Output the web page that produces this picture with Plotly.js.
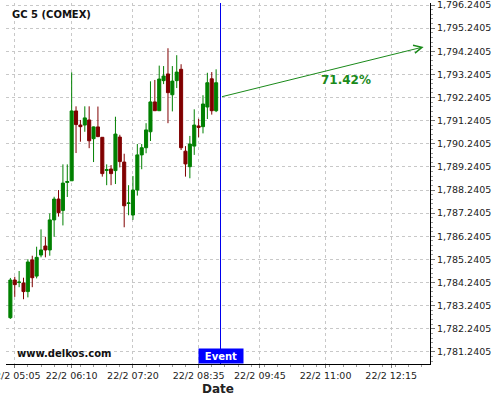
<!DOCTYPE html>
<html>
<head>
<meta charset="utf-8">
<script src="https://cdn.plot.ly/plotly-3.0.1.min.js"></script>
<style>html,body{margin:0;padding:0;background:#fff;}#chart{width:500px;height:400px;}</style>
</head>
<body>
<div id="chart"></div>
<script>
// ---- data ----
const times = [
  "2021-02-22 05:00","2021-02-22 05:05","2021-02-22 05:10","2021-02-22 05:15","2021-02-22 05:20","2021-02-22 05:25",
  "2021-02-22 05:30","2021-02-22 05:35","2021-02-22 05:40","2021-02-22 05:45","2021-02-22 05:50","2021-02-22 05:55",
  "2021-02-22 06:00","2021-02-22 06:05","2021-02-22 06:10","2021-02-22 06:15","2021-02-22 06:20","2021-02-22 06:25",
  "2021-02-22 06:30","2021-02-22 06:35","2021-02-22 06:40","2021-02-22 06:45","2021-02-22 06:50","2021-02-22 06:55",
  "2021-02-22 07:00","2021-02-22 07:05","2021-02-22 07:10","2021-02-22 07:15","2021-02-22 07:20","2021-02-22 07:25",
  "2021-02-22 07:30","2021-02-22 07:35","2021-02-22 07:40","2021-02-22 07:45","2021-02-22 07:50","2021-02-22 07:55",
  "2021-02-22 08:00","2021-02-22 08:05","2021-02-22 08:10","2021-02-22 08:15","2021-02-22 08:20","2021-02-22 08:25",
  "2021-02-22 08:30","2021-02-22 08:35","2021-02-22 08:40","2021-02-22 08:45","2021-02-22 08:50","2021-02-22 08:55"
];
const opens = [
  1782.72,1784.35,1784.24,1784.22,1783.85,1785.22,1784.52,1785.43,1785.82,1785.65,1786.95,1787.85,
  1787.36,1788.57,1788.64,1791.66,1791.05,1791.05,1791.27,1790.46,1790.97,1790.52,1789.09,1789.15,
  1789.08,1790.53,1789.45,1787.66,1787.16,1788.24,1789.76,1790.07,1790.76,1792.05,1791.67,1792.97,
  1793.26,1792.36,1792.97,1793.46,1789.92,1789.25,1790.14,1791.01,1790.98,1791.83,1793.05,1791.67
];
const highs = [
  1784.44,1784.49,1784.74,1784.45,1785.25,1785.40,1785.79,1786.54,1786.22,1787.23,1787.95,1788.24,
  1789.35,1789.35,1793.33,1791.86,1791.27,1791.86,1791.86,1790.99,1791.85,1790.53,1789.35,1789.32,
  1791.41,1790.63,1789.81,1788.45,1788.85,1790.23,1790.23,1791.13,1792.94,1793.00,1793.62,1793.60,
  1794.37,1793.60,1794.07,1793.68,1790.14,1790.58,1791.73,1791.32,1792.34,1793.31,1793.34,1793.46
];
const lows = [
  1782.67,1783.62,1784.04,1783.52,1783.60,1784.04,1784.42,1785.33,1785.33,1785.40,1786.22,1787.09,
  1786.71,1787.94,1788.63,1789.84,1790.33,1790.76,1790.05,1789.45,1790.53,1788.82,1788.45,1788.45,
  1788.50,1789.22,1786.63,1787.15,1786.95,1788.00,1789.14,1789.83,1790.36,1791.66,1791.66,1792.82,
  1791.13,1791.64,1792.65,1789.97,1788.82,1788.75,1789.76,1790.52,1790.69,1791.31,1791.50,1791.61
];
const closes = [
  1784.35,1784.15,1784.26,1783.85,1785.13,1784.45,1785.33,1785.65,1785.65,1786.95,1787.85,1787.26,
  1788.54,1788.61,1791.66,1791.07,1790.98,1791.36,1790.37,1790.97,1790.55,1788.95,1789.12,1788.95,
  1790.66,1789.47,1787.56,1787.68,1788.24,1789.76,1790.07,1790.84,1792.05,1791.67,1793.04,1793.17,
  1792.45,1792.95,1793.34,1790.07,1789.37,1790.23,1791.05,1790.95,1791.96,1792.88,1791.67,1792.88
];
const xTickVals = ["2021-02-22 05:05","2021-02-22 06:10","2021-02-22 07:20","2021-02-22 08:35",
                   "2021-02-22 09:45","2021-02-22 11:00","2021-02-22 12:15"];
const xTickText = ["22/2 05:05","22/2 06:10","22/2 07:20","22/2 08:35","22/2 09:45","22/2 11:00","22/2 12:15"];
const yTickVals = [1781.2405,1782.2405,1783.2405,1784.2405,1785.2405,1786.2405,1787.2405,1788.2405,
                   1789.2405,1790.2405,1791.2405,1792.2405,1793.2405,1794.2405,1795.2405,1796.2405];
const eventTime = "2021-02-22 09:00";
const arrowStart = {t: "2021-02-22 09:00", v: 1792.26};
const arrowEnd = {t: "2021-02-22 12:52", v: 1794.43};
const pctLabel = {t: "2021-02-22 11:23", v: 1793.00, text: "71.42%"};
const symbolName = "GC 5 (COMEX)";
const siteName = "www.delkos.com";

const GREEN = "#008000", RED = "#800000", ARROW = "#1a8a1a";
const F = "DejaVu Sans";

const trace = {
  type: "candlestick",
  x: times, open: opens, high: highs, low: lows, close: closes,
  increasing: {line: {color: GREEN, width: 1}, fillcolor: GREEN},
  decreasing: {line: {color: RED, width: 1}, fillcolor: RED},
  whiskerwidth: 0,
  hoverinfo: "skip",
  showlegend: false
};

const layout = {
  width: 500, height: 400,
  margin: {l: 6, r: 70, t: 3, b: 36, pad: 0},
  paper_bgcolor: "#ffffff", plot_bgcolor: "#ffffff",
  boxgap: 0,
  showlegend: false,
  xaxis: {
    type: "date",
    range: ["2021-02-22 04:55", "2021-02-22 12:59:17"],
    tickmode: "array", tickvals: xTickVals, ticktext: xTickText,
    ticklabeloverflow: "allow",
    showgrid: true, gridcolor: "#c8c8c8", griddash: "3px,3px", gridwidth: 1,
    showline: true, linecolor: "#000", linewidth: 1,
    ticks: "outside", ticklen: 3, tickcolor: "#777",
    tickfont: {family: F, size: 9.5, color: "#222"},
    minor: {ticks: "outside", ticklen: 2, tickcolor: "#999", dtick: 900000, tick0: "2021-02-22 05:05", showgrid: false},
    title: {text: "<b>Date</b>", font: {family: F, size: 12, color: "#222"}, standoff: 4},
    rangeslider: {visible: false},
    zeroline: false, fixedrange: true
  },
  yaxis: {
    side: "right",
    range: [1780.719, 1796.327],
    tickmode: "array", tickvals: yTickVals, tickformat: ",.4f",
    ticklabeloverflow: "allow",
    showgrid: true, gridcolor: "#c8c8c8", griddash: "3px,3px", gridwidth: 1,
    showline: true, linecolor: "#000", linewidth: 1,
    ticks: "outside", ticklen: 4, tickcolor: "#777",
    tickfont: {family: F, size: 9.5, color: "#222"},
    minor: {ticks: "outside", ticklen: 2, tickcolor: "#999", dtick: 0.2, tick0: 1781.2405, showgrid: false},
    zeroline: false, fixedrange: true
  },
  shapes: [
    {type: "line", xref: "x", yref: "paper", x0: eventTime, x1: eventTime, y0: 0, y1: 1,
     line: {color: "#0000ee", width: 1}}
  ],
  annotations: [
    {xref: "paper", yref: "paper", x: 0.0094, y: 0.967, xanchor: "left", yanchor: "middle",
     text: "<b>" + symbolName + "</b>", showarrow: false, font: {family: F, size: 10, color: "#111"}},
    {xref: "paper", yref: "paper", x: 0.021, y: 0.028, xanchor: "left", yanchor: "middle",
     text: "<b>" + siteName + "</b>", showarrow: false, font: {family: F, size: 10, color: "#111"}},
    {xref: "x", yref: "paper", x: eventTime, y: 0, xanchor: "center", yanchor: "bottom",
     text: "<b>Event</b>", showarrow: false, bgcolor: "#0000ff", borderpad: 1, width: 42, height: 12,
     font: {family: F, size: 10, color: "#ffffff"}},
    {xref: "x", yref: "y", axref: "x", ayref: "y", x: arrowEnd.t, y: arrowEnd.v, ax: arrowStart.t, ay: arrowStart.v,
     text: "", showarrow: true, arrowhead: 5, arrowsize: 1.6, arrowwidth: 1, arrowcolor: ARROW, standoff: 0},
    {xref: "x", yref: "y", x: pctLabel.t, y: pctLabel.v, xanchor: "center", yanchor: "middle",
     text: "<b>" + pctLabel.text + "</b>", showarrow: false, font: {family: F, size: 12, color: ARROW}}
  ]
};

Plotly.newPlot("chart", [trace], layout, {staticPlot: true, displayModeBar: false});
</script>
</body>
</html>
